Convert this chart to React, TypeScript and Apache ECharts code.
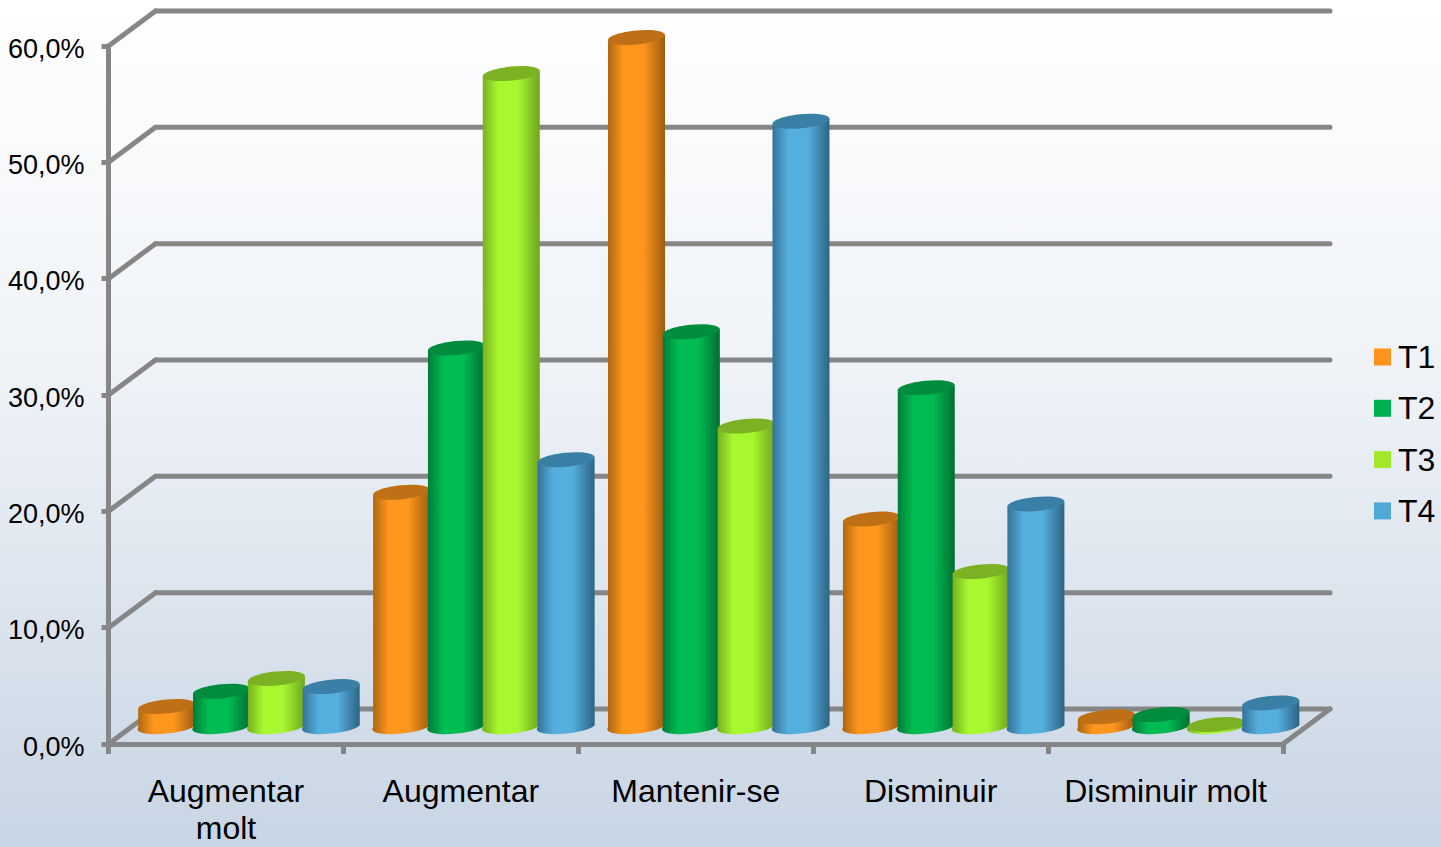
import React, { useEffect, useRef } from "react";
import * as echarts from "echarts";

const categories = ["Augmentar\nmolt", "Augmentar", "Mantenir-se", "Disminuir", "Disminuir molt"];
const seriesNames = ["T1", "T2", "T3", "T4"];
const t1 = [1.6, 20.0, 59.1, 17.7, 0.7];
const t2 = [2.9, 32.4, 33.8, 29.0, 0.9];
const t3 = [4.0, 56.0, 25.7, 13.2, 0.05];
const t4 = [3.3, 22.8, 51.9, 19.0, 1.9];
const seriesValues = [t1, t2, t3, t4];
const yTicks = [0, 10, 20, 30, 40, 50, 60];

const legendColors = ["#FF931E", "#00B050", "#A2E82A", "#4FA8D5"];
const palette = [
  { edgeL: "#A9650F", mid: "#FF961E", edgeR: "#9C5C0E", top: "#BF7016" },
  { edgeL: "#007A38", mid: "#00BC52", edgeR: "#006E32", top: "#008C3F" },
  { edgeL: "#74AE1F", mid: "#A8F830", edgeR: "#6EA41E", top: "#7DB124" },
  { edgeL: "#336F94", mid: "#54AEDE", edgeR: "#2D6484", top: "#3A80A6" },
];

const DEPTH_X = 47;
const DEPTH_Y = 35;
const BASE_SHIFT_X = 23;
const BASE_SHIFT_Y = 19;
const STEP_RATIO = 54.8 / 234.8;
const RX_RATIO = 28.6 / 234.8;
const RY = 7;
const TILT_DEG = 5.5;
const GRAY = "#868686";

const cylinder = (seriesIndex: number) => (params: any, api: any) => {
  const catIdx = api.value(0);
  const val = api.value(1);
  const band = api.size([1, 0])[0];
  const base = api.coord([catIdx, 0]);
  const topPt = api.coord([catIdx, val]);
  const cx = base[0] + BASE_SHIFT_X + (seriesIndex - 1.5) * band * STEP_RATIO;
  const a = band * RX_RATIO;
  const phi = (TILT_DEG * Math.PI) / 180;
  const yb = base[1] - BASE_SHIFT_Y;
  const yt = topPt[1] - BASE_SHIFT_Y;
  const X = Math.sqrt(a * a * Math.cos(phi) ** 2 + RY * RY * Math.sin(phi) ** 2);
  const dy = ((a * a - RY * RY) * Math.sin(phi) * Math.cos(phi)) / X;
  const p = palette[seriesIndex];
  const d =
    `M ${cx - X} ${yt + dy} L ${cx - X} ${yb + dy} ` +
    `A ${a} ${RY} ${-TILT_DEG} 0 0 ${cx + X} ${yb - dy} ` +
    `L ${cx + X} ${yt - dy} Z`;
  return {
    type: "group",
    children: [
      {
        type: "path",
        shape: { pathData: d },
        style: {
          fill: new echarts.graphic.LinearGradient(0, 0, 1, 0, [
            { offset: 0, color: p.edgeL },
            { offset: 0.28, color: p.mid },
            { offset: 0.62, color: p.mid },
            { offset: 1, color: p.edgeR },
          ]),
        },
      },
      {
        type: "ellipse",
        x: cx,
        y: yt,
        rotation: phi,
        shape: { cx: 0, cy: 0, rx: a, ry: RY },
        style: { fill: p.top },
      },
    ],
  };
};

const frame = (params: any, api: any) => {
  const val = api.value(1);
  const sys = params.coordSys;
  const y = api.coord([0, val])[1];
  const x0 = sys.x;
  const x1 = sys.x + sys.width;
  const lineStyle = { stroke: GRAY, lineWidth: 5, lineCap: "round" };
  const children: any[] = [
    { type: "line", shape: { x1: x0, y1: y, x2: x0 + DEPTH_X, y2: y - DEPTH_Y }, style: lineStyle },
    { type: "line", shape: { x1: x0 + DEPTH_X, y1: y - DEPTH_Y, x2: x1 + DEPTH_X, y2: y - DEPTH_Y }, style: lineStyle },
  ];
  if (val === 0) {
    children.push({ type: "line", shape: { x1, y1: y, x2: x1 + DEPTH_X, y2: y - DEPTH_Y }, style: lineStyle });
  }
  return { type: "group", children };
};

export default function App() {
  const ref = useRef<HTMLDivElement>(null);
  useEffect(() => {
    document.body.style.margin = "0";
    document.body.style.overflow = "hidden";
    const chart = echarts.init(ref.current!, null, { renderer: "svg" });
    const font = "'Liberation Sans', Arial, sans-serif";
    chart.setOption({
      animation: false,
      backgroundColor: new echarts.graphic.LinearGradient(0, 0, 0, 1, [
        { offset: 0, color: "#FFFFFF" },
        { offset: 0.45, color: "#EEF2F7" },
        { offset: 1, color: "#C8D5E4" },
      ]),
      grid: { left: 108.5, width: 1174.5, top: 46, height: 698 },
      legend: {
        show: true,
        orient: "vertical",
        left: 1374,
        top: 341,
        padding: 0,
        itemWidth: 17,
        itemHeight: 17,
        itemGap: 19.3,
        icon: "rect",
        textStyle: { fontFamily: font, fontSize: 32, color: "#000", padding: [0, 0, 0, 2] },
        data: seriesNames.map((name, i) => ({ name, itemStyle: { color: legendColors[i] } })),
      },
      xAxis: {
        type: "category",
        data: categories,
        axisLine: { show: true, lineStyle: { color: GRAY, width: 5 } },
        axisTick: { show: true, length: 10, lineStyle: { color: GRAY, width: 5 } },
        axisLabel: {
          interval: 0,
          margin: 28,
          color: "#000",
          fontFamily: font,
          fontSize: 32,
          lineHeight: 37,
        },
      },
      yAxis: {
        type: "value",
        show: true,
        min: 0,
        max: 60,
        interval: 10,
        splitLine: { show: false },
        axisLine: { show: true, lineStyle: { color: GRAY, width: 5 } },
        axisTick: { show: true, length: 7, lineStyle: { color: GRAY, width: 5 } },
        axisLabel: {
          margin: 24,
          color: "#000",
          fontFamily: font,
          fontSize: 27,
          formatter: (v: number) => "{a|" + v.toFixed(1).replace(".", ",") + "%}",
          rich: {
            a: { fontFamily: font, fontSize: 27, color: "#000", padding: [5, 0, 0, 0] },
          },
        },
      },
      series: [
        {
          type: "custom",
          name: "frame",
          silent: true,
          renderItem: frame,
          encode: { x: 0, y: 1 },
          data: yTicks.map((v) => [0, v]),
          z: 1,
        },
        ...seriesNames.map((name, i) => ({
          type: "custom",
          name,
          silent: true,
          renderItem: cylinder(i),
          encode: { x: 0, y: 1 },
          itemStyle: { color: legendColors[i] },
          data: seriesValues[i].map((v, c) => [c, v]),
          z: 2 + i,
        })),
      ],
    });
    return () => chart.dispose();
  }, []);
  return <div ref={ref} style={{ width: 1441, height: 847 }} />;
}
